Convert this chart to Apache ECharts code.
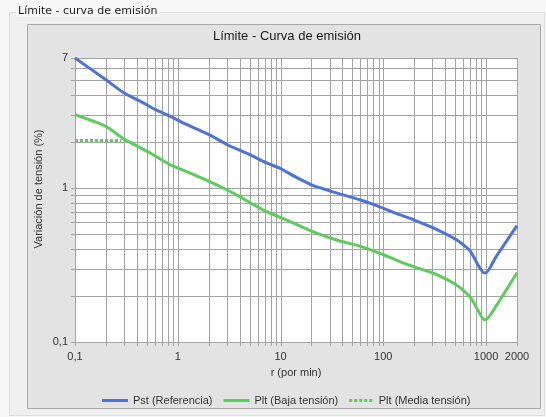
<!DOCTYPE html>
<html>
<head>
<meta charset="utf-8">
<script src="https://cdn.jsdelivr.net/npm/echarts@6/dist/echarts.min.js"></script>
<style>
html,body{margin:0;padding:0;background:#f7f7f7;}
#c{width:546px;height:417px;}
</style>
</head>
<body>
<div id="c"></div>
<script>
// ---- data ----
const pstR = [0.1, 0.2, 0.3, 0.43, 0.6, 0.84, 1.2, 2, 3, 5, 7.3, 10, 13.4, 20, 35, 59, 86, 146, 200, 310, 520, 700, 850, 950, 1000, 1250, 2000];
const pstV = [7, 5.05, 4.15, 3.67, 3.25, 2.93, 2.6, 2.23, 1.92, 1.65, 1.46, 1.34, 1.2, 1.05, 0.93, 0.84, 0.77, 0.67, 0.62, 0.55, 0.46, 0.39, 0.31, 0.282, 0.282, 0.358, 0.57];
const pltBajaR = [0.1, 0.2, 0.3, 0.54, 0.84, 1.22, 2, 3, 4, 6.8, 11.5, 20, 35, 59, 90, 146, 200, 310, 520, 700, 850, 950, 1000, 1250, 2000];
const pltBajaV = [3.0, 2.52, 2.08, 1.69, 1.42, 1.28, 1.11, 0.975, 0.88, 0.72, 0.62, 0.525, 0.46, 0.42, 0.38, 0.332, 0.308, 0.279, 0.234, 0.196, 0.157, 0.140, 0.140, 0.171, 0.282];
const pltMediaR = [0.1, 0.28];
const pltMediaV = [2.04, 2.04];
const seriesNames = ['Pst (Referencia)', 'Plt (Baja tensión)', 'Plt (Media tensión)'];
const xMin = 0.1, xMax = 2000, yMin = 0.1, yMax = 7;

// grid line positions (log decades x 1..9)
function logGrid(lo, hi) {
  const out = [];
  for (let d = -1; d <= 3; d++) {
    for (let m = 1; m <= 9; m++) {
      const v = +(m * Math.pow(10, d)).toPrecision(6);
      if (v >= lo - 1e-9 && v <= hi + 1e-9) out.push(v);
    }
  }
  if (out[out.length - 1] !== hi) out.push(hi);
  return out;
}
const gridXs = logGrid(xMin, xMax);
const gridYs = logGrid(yMin, yMax);

const zip = (a, b) => a.map((x, i) => [x, b[i]]);
const fmt = v => String(v).replace('.', ',');

const blue = '#4d72d9';
const green = '#5ccc5c';
const gridCol = '#a3a3a3';
const font = 'Liberation Sans, Arial, sans-serif';

const solidIcon = 'path://M0,0h26v3h-26z';
const dotIcon = 'path://M0,0h3v3h-3z M5,0h3v3h-3z M10,0h3v3h-3z M15,0h3v3h-3z M20,0h3v3h-3z';

const chart = echarts.init(document.getElementById('c'), null, {renderer: 'canvas'});

function crisp(v) { return Math.round(v) + 0.5; }

const option = {
  backgroundColor: '#f7f7f7',
  animation: false,
  textStyle: {fontFamily: font},
  graphic: [
    {type: 'rect', z: -10, shape: {x: 9.5, y: 12.5, width: 535, height: 403}, style: {fill: '#f0f0f0', stroke: '#dddddd', lineWidth: 1}},
    {type: 'rect', z: -9, shape: {x: 27.5, y: 24.5, width: 513, height: 384}, style: {fill: '#e3e3e3', stroke: '#a9a9a9', lineWidth: 1}},
    {type: 'text', z: -8, left: 16, top: 6, style: {text: 'Límite - curva de emisión', font: '11px "DejaVu Sans", sans-serif', fill: '#222', backgroundColor: '#f7f7f7', padding: [0, 2, 0, 2]}},
    {type: 'text', z: 5, x: 287, y: 36, style: {text: 'Límite - Curva de emisión', font: '13px ' + font, fill: '#1a1a1a', textAlign: 'center', textVerticalAlign: 'middle'}},
    {type: 'text', z: 5, x: 39, y: 189, rotation: Math.PI / 2, style: {text: 'Variación de tensión (%)', font: '11px ' + font, fill: '#333', textAlign: 'center', textVerticalAlign: 'middle'}}
  ],
  grid: {left: 75, right: 29, top: 58, bottom: 75, show: true, backgroundColor: '#ffffff', borderWidth: 0},
  legend: {
    left: 97, top: 390, itemWidth: 26, itemHeight: 3, itemGap: 11,
    textStyle: {fontSize: 11, color: '#333', fontFamily: font},
    data: [
      {name: seriesNames[0], icon: solidIcon},
      {name: seriesNames[1], icon: solidIcon},
      {name: seriesNames[2], icon: dotIcon}
    ]
  },
  xAxis: {
    type: 'log', logBase: 10, min: xMin, max: xMax,
    name: 'r (por min)', nameLocation: 'middle', nameGap: 25,
    nameTextStyle: {fontSize: 11, color: '#333', fontFamily: font},
    axisLine: {show: false}, axisTick: {show: false}, splitLine: {show: false},
    axisLabel: {margin: 9, fontSize: 11, color: '#333', fontFamily: font, formatter: v => fmt(v), showMinLabel: true, showMaxLabel: true}
  },
  yAxis: {
    type: 'log', logBase: 10, min: yMin, max: yMax,
    axisLine: {show: false}, axisTick: {show: false}, splitLine: {show: false},
    axisLabel: {margin: 7, fontSize: 11, color: '#333', fontFamily: font, formatter: v => fmt(v), showMinLabel: true, showMaxLabel: true}
  },
  series: [
    {
      type: 'custom', name: 'gridX', silent: true, z: 1, clip: false,
      data: gridXs.map(v => [v, yMin]),
      encode: {x: 0, y: 1},
      renderItem: (params, api) => {
        const v = api.value(0);
        const p0 = api.coord([v, yMin]);
        const p1 = api.coord([v, yMax]);
        const x = crisp(p0[0]);
        return {type: 'line', shape: {x1: x, y1: p0[1] + 4, x2: x, y2: p1[1]}, style: {stroke: gridCol, lineWidth: 1}};
      }
    },
    {
      type: 'custom', name: 'gridY', silent: true, z: 1, clip: false,
      data: gridYs.map(v => [xMin, v]),
      encode: {x: 0, y: 1},
      renderItem: (params, api) => {
        const v = api.value(1);
        const p0 = api.coord([xMin, v]);
        const p1 = api.coord([xMax, v]);
        const y = crisp(p0[1]);
        return {type: 'line', shape: {x1: p0[0] - 4, y1: y, x2: p1[0], y2: y}, style: {stroke: gridCol, lineWidth: 1}};
      }
    },
    {
      name: seriesNames[0], type: 'line', z: 4, showSymbol: false, symbol: 'none', smooth: 0.2,
      data: zip(pstR, pstV), lineStyle: {color: blue, width: 3}, itemStyle: {color: blue}
    },
    {
      name: seriesNames[1], type: 'line', z: 3, showSymbol: false, symbol: 'none', smooth: 0.2,
      data: zip(pltBajaR, pltBajaV), lineStyle: {color: green, width: 3}, itemStyle: {color: green}
    },
    {
      name: seriesNames[2], type: 'line', z: 3, showSymbol: false, symbol: 'none',
      data: zip(pltMediaR, pltMediaV), lineStyle: {color: green, width: 3, type: [3, 2]}, itemStyle: {color: green}
    }
  ]
};
chart.setOption(option);
</script>
</body>
</html>
